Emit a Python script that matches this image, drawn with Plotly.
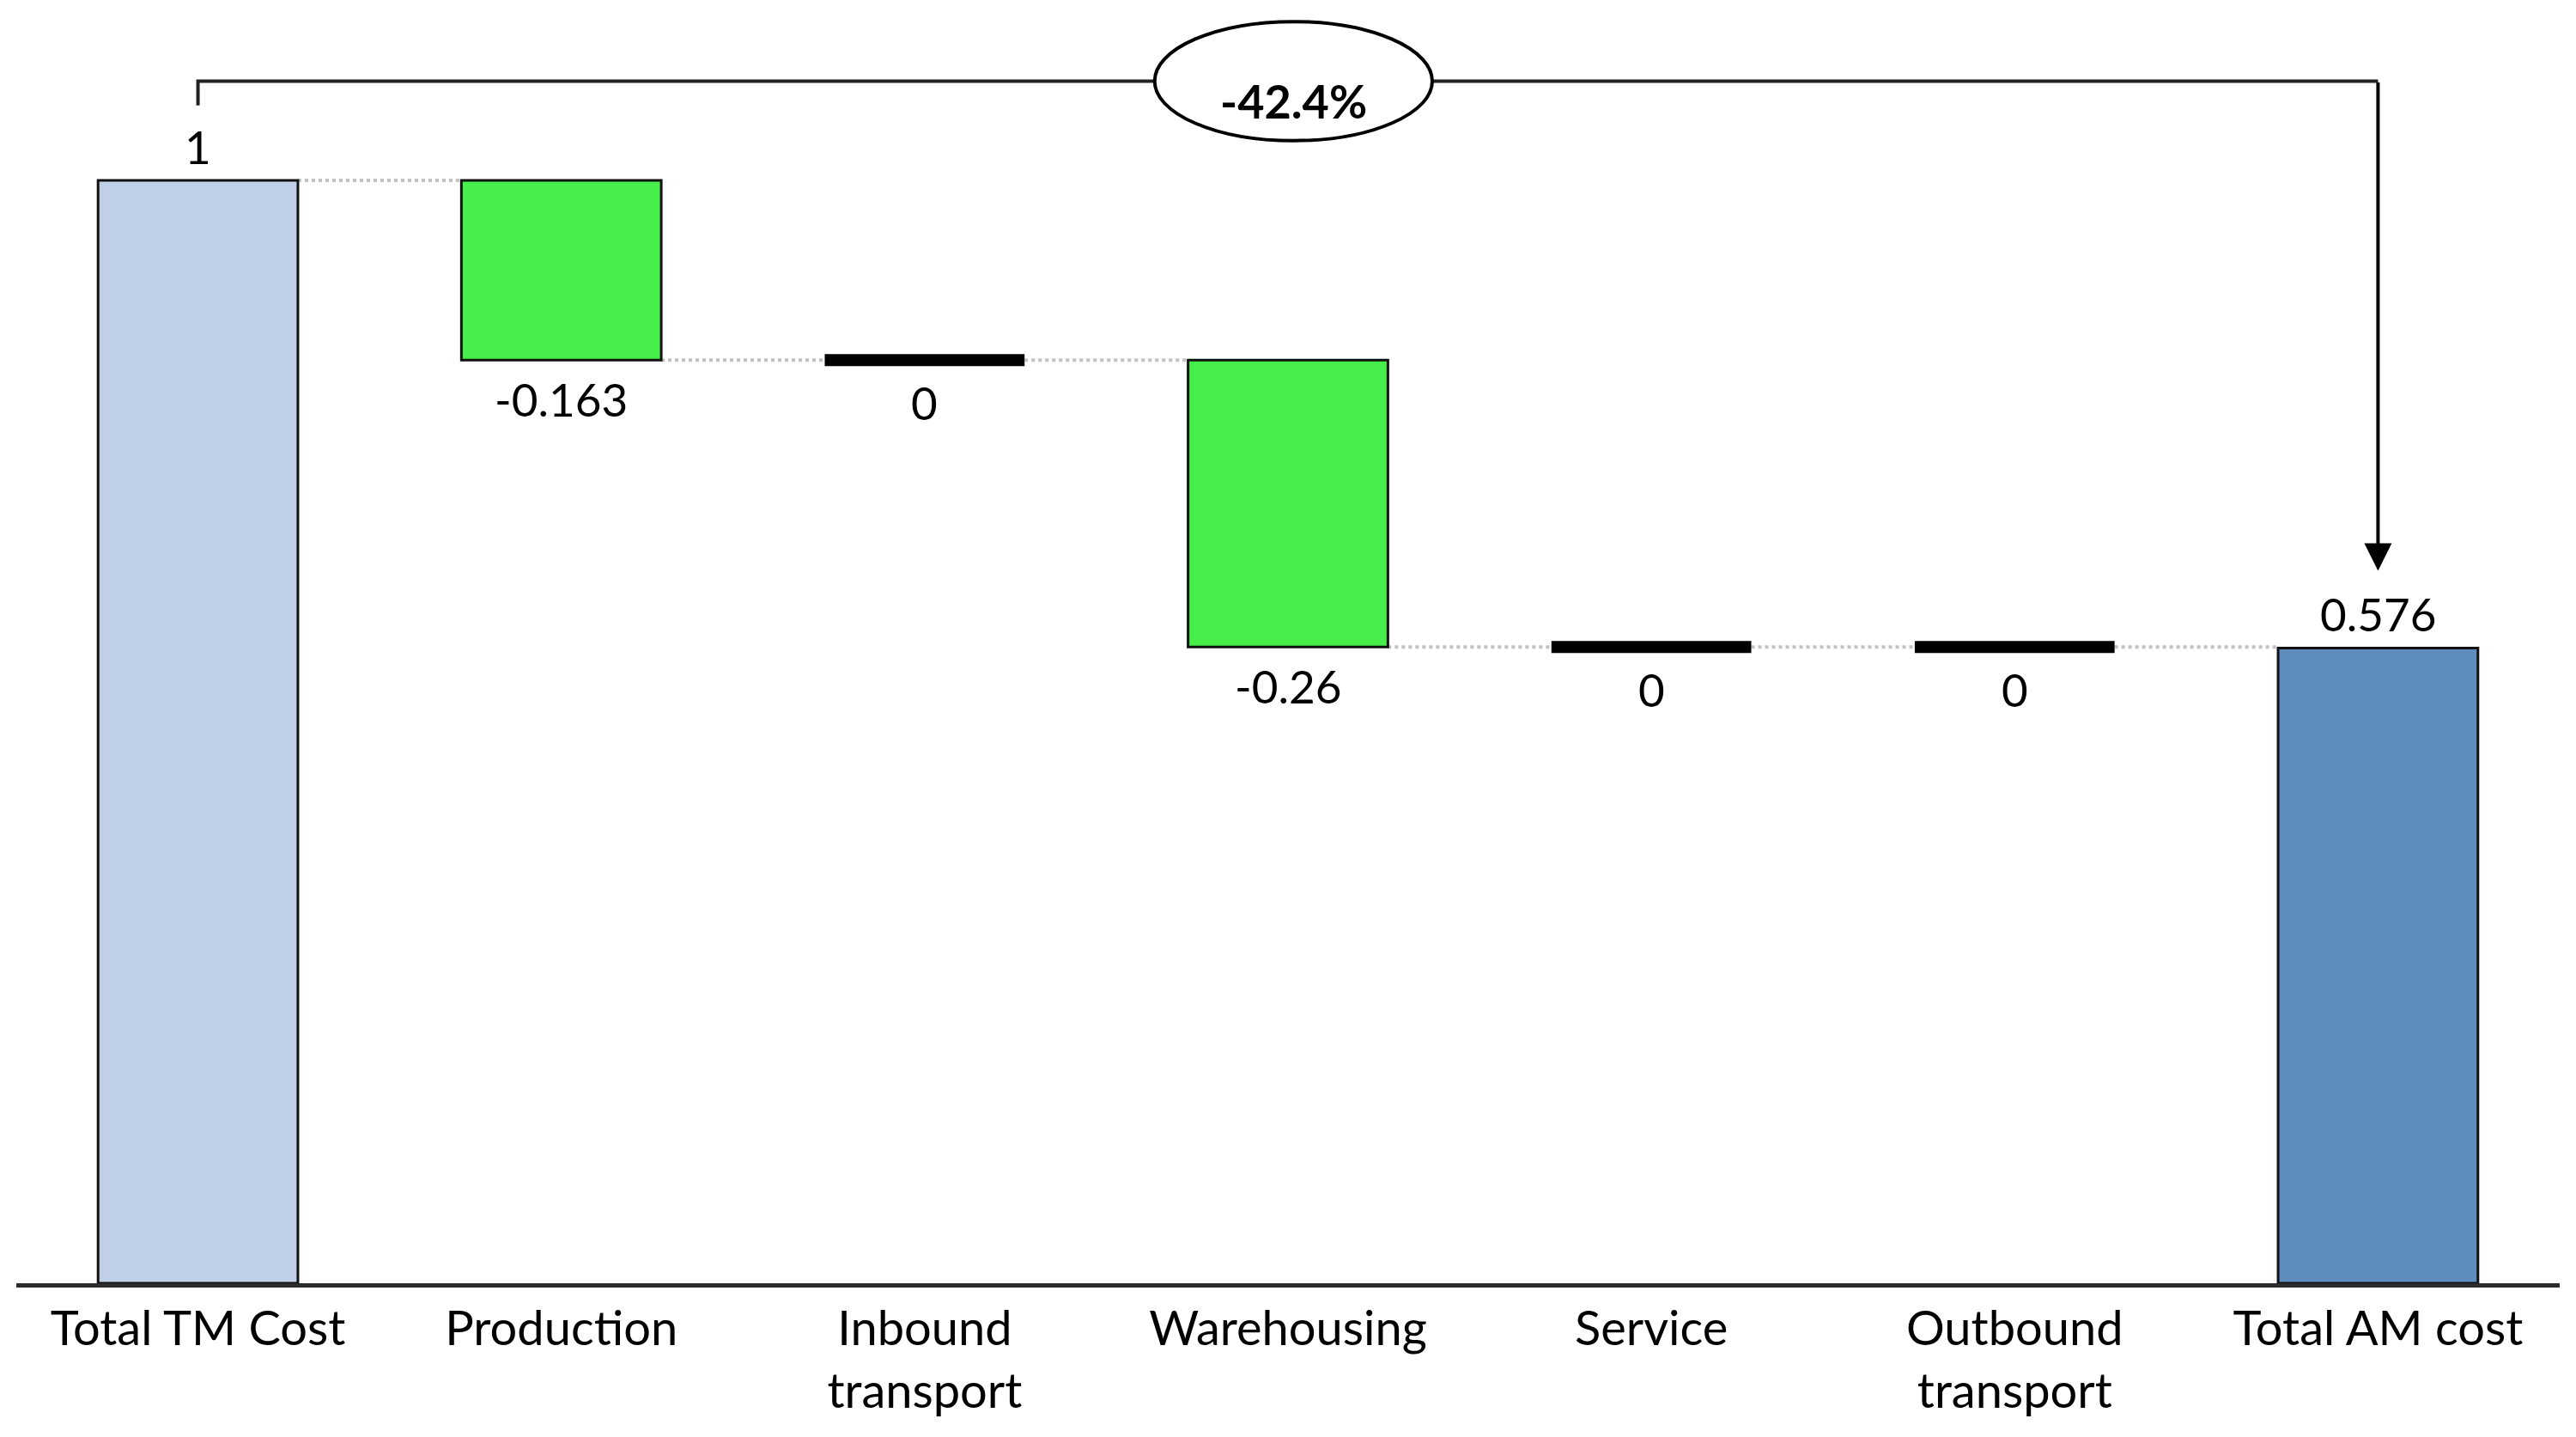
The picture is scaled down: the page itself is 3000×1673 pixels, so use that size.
import plotly.graph_objects as go

# ---------------- data ----------------
categories = ["Total TM Cost", "Production", "Inbound<br>transport", "Warehousing",
              "Service", "Outbound<br>transport", "Total AM cost"]
values = [1, -0.163, 0, -0.26, 0, 0, 0.576]
measures = ["absolute", "relative", "relative", "relative", "relative", "relative", "total"]
value_labels = ["1", "-0.163", "0", "-0.26", "0", "0", "0.576"]
change_label = "-42.4%"

# ---------------- styles ----------------
FONT = "Lato, 'Open Sans', 'Liberation Sans', sans-serif"
C_START = "#BFCFE5"
C_DELTA = "#45EE48"
C_TOTAL = "#5D8CBD"
BAR_W = 0.55

# compute bases / tops from the data
bases, tops, levels = [], [], []
level = 0.0
for v, m in zip(values, measures):
    if m == "absolute":
        b, t = 0.0, v
        level = v
    elif m == "relative":
        b, t = level, level + v
        level = level + v
    else:  # total
        b, t = 0.0, v
        level = v
    bases.append(b)
    tops.append(t)
    levels.append(level)

fig = go.Figure()

# real bars (non-zero)
bx, by, bb, bc = [], [], [], []
for i, (v, m) in enumerate(zip(values, measures)):
    if v == 0:
        continue
    bx.append(i)
    by.append(tops[i] - bases[i])
    bb.append(bases[i])
    bc.append(C_START if m == "absolute" else (C_TOTAL if m == "total" else C_DELTA))

fig.add_trace(go.Bar(x=bx, y=by, base=bb, width=BAR_W,
                     marker=dict(color=bc, line=dict(color="#111111", width=3)),
                     hoverinfo="skip"))

# zero-change markers as thick black lines
for i, v in enumerate(values):
    if v == 0:
        fig.add_trace(go.Scatter(x=[i - BAR_W / 2, i + BAR_W / 2], y=[levels[i], levels[i]],
                                 mode="lines", line=dict(color="black", width=14),
                                 hoverinfo="skip"))

# dotted connectors
shapes = []
for i in range(len(values) - 1):
    shapes.append(dict(type="line", xref="x", yref="y",
                       x0=i + BAR_W / 2, x1=i + 1 - BAR_W / 2,
                       y0=levels[i], y1=levels[i],
                       line=dict(color="#C2C2C2", width=4, dash="dot"), layer="below"))

# value labels
annotations = []
for i, (v, m) in enumerate(zip(values, measures)):
    if m in ("absolute", "total"):
        annotations.append(dict(x=i, y=tops[i], text=value_labels[i], showarrow=False,
                                xref="x", yref="y", yanchor="bottom", yshift=6,
                                font=dict(family=FONT, size=53, color="black")))
    else:
        annotations.append(dict(x=i, y=min(bases[i], tops[i]), text=value_labels[i], showarrow=False,
                                xref="x", yref="y", yanchor="top",
                                yshift=(-16 if v == 0 else -12),
                                font=dict(family=FONT, size=53, color="black")))

# bracket with overall change
first, last = 0, len(values) - 1
y_br = max(tops) + 0.09
x_mid = (first + last) / 2 + 0.015
shapes.append(dict(type="path", xref="x", yref="y",
                   path=f"M {first},{tops[first] + 0.068} L {first},{y_br} L {last},{y_br}",
                   line=dict(color="#222222", width=4)))
shapes.append(dict(type="circle", xref="x", yref="y",
                   x0=x_mid - 0.382, x1=x_mid + 0.382, y0=y_br - 0.054, y1=y_br + 0.054,
                   fillcolor="white", line=dict(color="black", width=4), layer="above"))
annotations.append(dict(x=last, y=tops[last] + 0.07, ax=last, ay=y_br,
                        xref="x", yref="y", axref="x", ayref="y", text="",
                        showarrow=True, arrowhead=2, arrowsize=1.6, arrowwidth=4,
                        arrowcolor="black", standoff=0))
annotations.append(dict(x=x_mid, y=y_br - 0.018, text=f"<b>{change_label}</b>", showarrow=False,
                        xref="x", yref="y", yanchor="middle",
                        font=dict(family=FONT, size=54, color="black")))

fig.update_layout(
    width=2984, height=1657,
    margin=dict(l=11, r=11, t=12, b=171),
    plot_bgcolor="white", paper_bgcolor="white",
    showlegend=False,
    shapes=shapes, annotations=annotations,
    xaxis=dict(range=[-0.5, len(values) - 0.5], tickmode="array",
               tickvals=list(range(len(values))), ticktext=categories,
               showline=True, linecolor="#2b2b2b", linewidth=5,
               showgrid=False, zeroline=False, ticks="",
               tickfont=dict(family=FONT, size=56, color="black")),
    yaxis=dict(range=[0, 1.148], visible=False, showgrid=False, zeroline=False),
)

fig.write_html("out.html")
